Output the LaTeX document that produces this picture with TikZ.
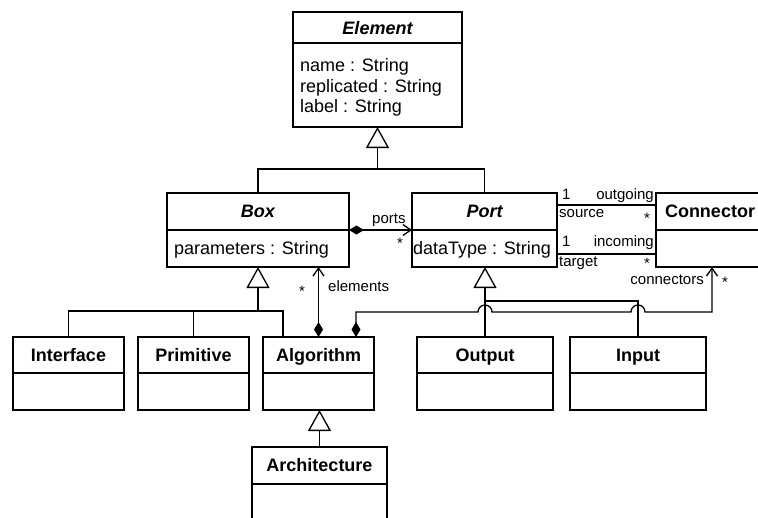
\documentclass[tikz,border=0pt]{standalone}
\usepackage{fontspec}
\setmainfont{Liberation Sans}
\usetikzlibrary{arrows.meta,calc}

\tikzset{
  wire/.style={line width=1.3pt, line join=miter},
  cls/.style={draw, line width=1.3pt, rectangle, inner sep=0pt, outer sep=0pt},
  gen/.style={wire, -{Triangle[length=21pt,width=23pt,fill=white,line join=miter]}},
  comp/.style={wire, {Diamond[length=15pt,width=9pt]}-{Straight Barb[length=8pt,width=11pt,line join=miter]}},
  hdr/.style={font=\bfseries\fontsize{18}{21}\selectfont, anchor=base, inner sep=0pt},
  ahdr/.style={font=\bfseries\itshape\fontsize{18}{21}\selectfont, anchor=base, inner sep=0pt},
  attr/.style={font=\fontsize{18}{21}\selectfont, anchor=base west, inner sep=0pt},
  lbl/.style={font=\fontsize{15}{18}\selectfont, inner sep=0pt},
}

% class box: name, left, top, right, bottom, compartment separator
\newcommand\umlclass[6]{%
  \node[cls, minimum width={#4-#2}, minimum height={#5-#3}, anchor=north west] (#1) at (#2,#3) {};
  \draw[wire] (#2,#6) -- (#4,#6);
}

\begin{document}
\begin{tikzpicture}[x=1pt,y=-1pt]
\useasboundingbox (0,0) rectangle (758,517);

% classes
\umlclass{elem}{293}{12}{462}{127}{43}
\umlclass{box}{167}{193}{349}{267}{230}
\umlclass{port}{412}{193}{557}{267}{230}
\umlclass{conn}{656}{193}{764}{267}{230}
\umlclass{iface}{13}{337}{124}{410}{373}
\umlclass{prim}{138}{337}{249}{410}{373}
\umlclass{alg}{263}{337}{374}{410}{373}
\umlclass{out}{417}{337}{553}{410}{373}
\umlclass{inp}{570}{337}{706}{410}{373}
\umlclass{arch}{252}{447}{387}{525}{484}

% class names and attributes
\node[ahdr] (tElem) at (377.5,34) {Element};
\node[attr] (aName) at (300,71.5) {name : String};
\node[attr] (aRepl) at (300,92) {replicated : String};
\node[attr] (aLab) at (300,112.5) {label : String};
\node[ahdr] (tBox) at (258,217) {Box};
\node[attr] (aPar) at (174,254) {parameters : String};
\node[ahdr] (tPort) at (484.5,217) {Port};
\node[attr] (aData) at (413,254) {dataType : String};
\node[hdr] (tConn) at (710,217) {Connector};
\node[hdr] (tIface) at (68.5,361) {Interface};
\node[hdr] (tPrim) at (193.5,361) {Primitive};
\node[hdr] (tAlg) at (318.5,361) {Algorithm};
\node[hdr] (tOut) at (485,361) {Output};
\node[hdr] (tInp) at (638,361) {Input};
\node[hdr] (tArch) at (319.5,471) {Architecture};

% generalisation of Element
\coordinate (gE) at (377.5,169);
\draw[gen] (gE) -- (elem.south);
\draw[wire] (box.north) |- (gE) -| (port.north);

% generalisation of Box
\coordinate (gB) at (258,311);
\coordinate (algIn) at (283,337);
\draw[gen] (gB) -- (box.south);
\draw[wire] (iface.north) |- (gB);
\draw[wire] (prim.north) |- (gB);
\draw[wire] (algIn) |- (gB);

% generalisation of Port
\coordinate (gP) at (485,301);
\draw[gen] (out.north) -- (out.north |- port.south);
\draw[wire] (inp.north) |- (gP);

% generalisation of Algorithm
\draw[gen] (arch.north) -- (arch.north |- alg.south);

% ports
\draw[comp] (box.east) -- (port.west);
\node[lbl, anchor=base west] (lPorts) at (372,223) {ports};
\node[lbl, anchor=base] (mPorts) at (400,248) {*};

% elements
\draw[comp] (alg.north) -- (alg.north |- box.south);
\node[lbl, anchor=base west] (lElems) at (328,291) {elements};
\node[lbl, anchor=base] (mElems) at (302,296) {*};

% connectors, hopping over the Port generalisation lines
\coordinate (algD) at (356,337);
\coordinate (connIn) at (712,267);
\draw[comp] (algD) -- (356,312)
  -- ($(out.north |- 0,312)+(-7,0)$) arc[start angle=180,end angle=0,radius=7pt]
  -- ($(inp.north |- 0,312)+(-7,0)$) arc[start angle=180,end angle=0,radius=7pt]
  -- (connIn |- 0,312) -- (connIn);
\node[lbl, anchor=base east] (lConns) at (704,284) {connectors};
\node[lbl, anchor=base] (mConns) at (725,287) {*};

% source / outgoing
\draw[wire] ($(port.north east)+(0,12)$) -- ($(conn.north west)+(0,12)$);
\node[lbl, anchor=base west] (mSrc) at (562,199) {1};
\node[lbl, anchor=base east] (lOut) at (654,199) {outgoing};
\node[lbl, anchor=base west] (lSrc) at (559,217) {source};
\node[lbl, anchor=base] (mOut) at (647,223) {*};

% target / incoming
\draw[wire] ($(port.north east)+(0,61)$) -- ($(conn.north west)+(0,61)$);
\node[lbl, anchor=base west] (mTgt) at (562,246) {1};
\node[lbl, anchor=base east] (lInc) at (654,246) {incoming};
\node[lbl, anchor=base west] (lTgt) at (559,266) {target};
\node[lbl, anchor=base] (mInc) at (647,268) {*};
\end{tikzpicture}
\end{document}
